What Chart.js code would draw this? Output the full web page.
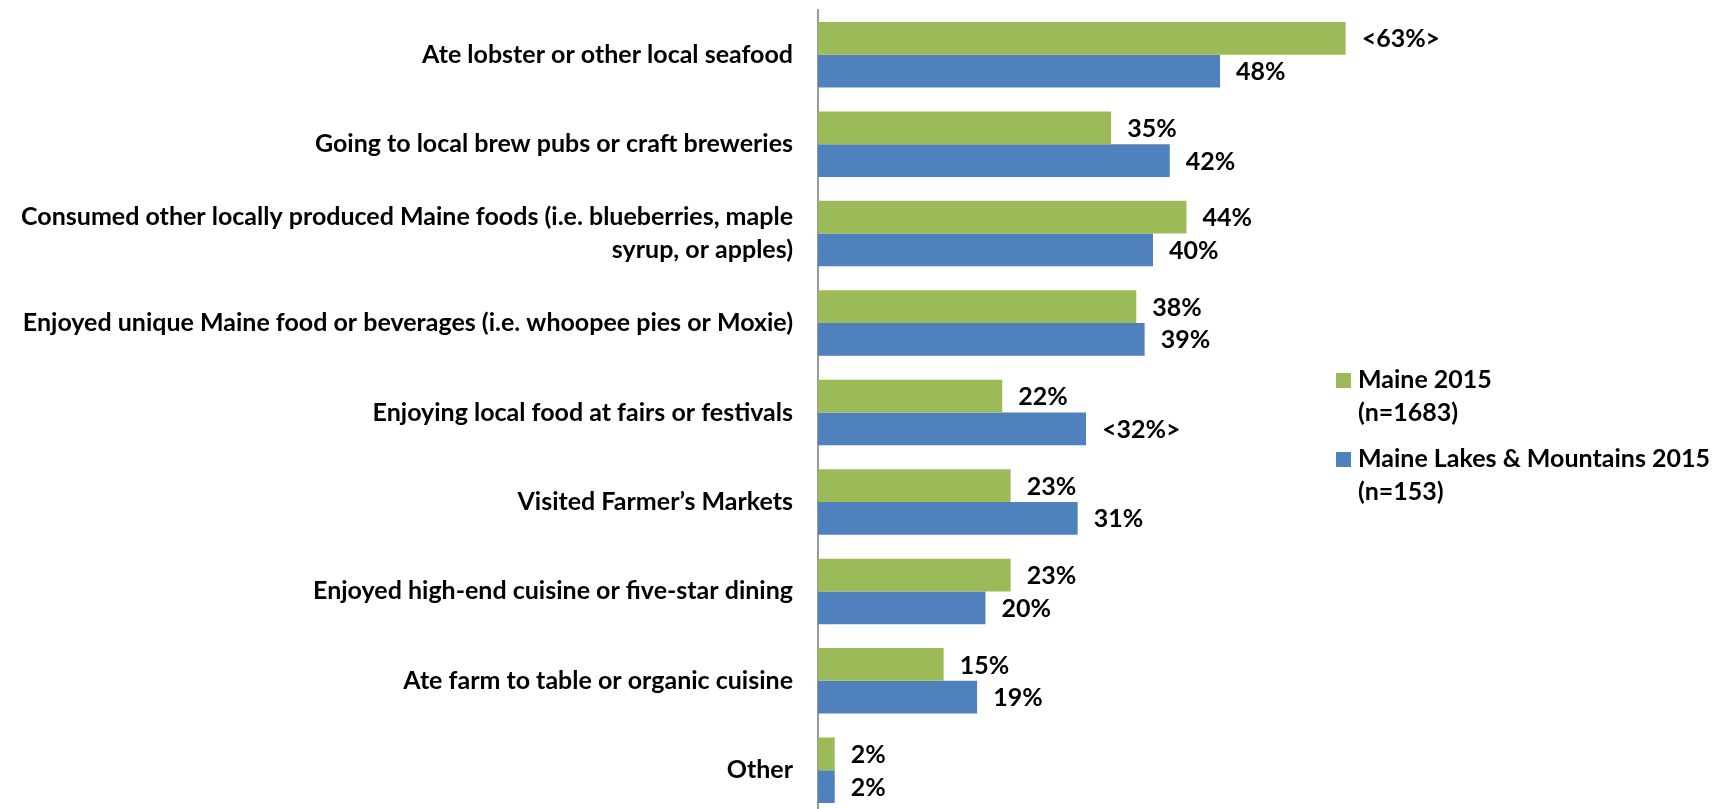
<!DOCTYPE html>
<html>
<head>
<meta charset="utf-8">
<title>Food and drink activities</title>
<script src="https://cdn.jsdelivr.net/npm/chart.js@4.4.1/dist/chart.umd.min.js"></script>
<style>
  html, body { margin: 0; padding: 0; background: #fff; overflow: hidden; }
  #wrap { width: 1721px; height: 815px; position: relative; }
</style>
</head>
<body>
<div id="wrap"><canvas id="myChart"></canvas></div>
<script>
const categories = [
  'Ate lobster or other local seafood',
  'Going to local brew pubs or craft breweries',
  ['Consumed other locally produced Maine foods (i.e. blueberries, maple', 'syrup, or apples)'],
  'Enjoyed unique Maine food or beverages (i.e. whoopee pies or Moxie)',
  'Enjoying local food at fairs or festivals',
  'Visited Farmer\u2019s Markets',
  'Enjoyed high-end cuisine or five-star dining',
  'Ate farm to table or organic cuisine',
  'Other'
];
const maineValues = [63, 35, 44, 38, 22, 23, 23, 15, 2];
const lakesValues = [48, 42, 40, 39, 32, 31, 20, 19, 2];
const maineLabels = ['<63%>', '35%', '44%', '38%', '22%', '23%', '23%', '15%', '2%'];
const lakesLabels = ['48%', '42%', '40%', '39%', '<32%>', '31%', '20%', '19%', '2%'];
const seriesNames = ['Maine 2015', 'Maine Lakes & Mountains 2015'];
const seriesNotes = ['(n=1683)', '(n=153)'];
const seriesColors = ['#9BBB59', '#4F81BD'];

const FONT = 'Lato, "Open Sans", sans-serif';

// value text just past the end of each bar
const barValueLabels = {
  id: 'barValueLabels',
  afterDatasetsDraw(chart) {
    const ctx = chart.ctx;
    ctx.save();
    ctx.font = 'bold 25px ' + FONT;
    ctx.fillStyle = '#000';
    ctx.textAlign = 'left';
    ctx.textBaseline = 'middle';
    chart.data.datasets.forEach((ds, d) => {
      chart.getDatasetMeta(d).data.forEach((bar, i) => {
        ctx.fillText(ds.valueLabels[i], bar.x + 16, bar.y + 1);
      });
    });
    ctx.restore();
  }
};

// two-line legend entries on the right
const sideLegend = {
  id: 'sideLegend',
  afterDraw(chart) {
    const ctx = chart.ctx;
    const x = chart.chartArea.left + 518;
    const tops = [373, 452];
    ctx.save();
    ctx.font = 'bold 25px ' + FONT;
    ctx.textAlign = 'left';
    ctx.textBaseline = 'middle';
    chart.data.datasets.forEach((ds, d) => {
      ctx.fillStyle = ds.backgroundColor;
      ctx.fillRect(x, tops[d], 15, 15);
      ctx.fillStyle = '#000';
      ctx.fillText(ds.label, x + 22, tops[d] + 7);
      ctx.fillText(seriesNotes[d], x + 22, tops[d] + 40);
    });
    ctx.restore();
  }
};

new Chart(document.getElementById('myChart'), {
  type: 'bar',
  data: {
    labels: categories,
    datasets: [
      { label: seriesNames[0], data: maineValues, valueLabels: maineLabels, backgroundColor: seriesColors[0] },
      { label: seriesNames[1], data: lakesValues, valueLabels: lakesLabels, backgroundColor: seriesColors[1] }
    ]
  },
  options: {
    indexAxis: 'y',
    responsive: true,
    maintainAspectRatio: false,
    animation: false,
    datasets: {
      bar: { categoryPercentage: 0.732, barPercentage: 1 }
    },
    layout: { padding: { top: 10, right: 233, bottom: 0, left: 0 } },
    scales: {
      x: { display: false, min: 0, max: 80 },
      y: {
        grid: { display: false, drawTicks: false },
        border: { display: true, color: '#999', width: 2 },
        ticks: {
          color: '#000',
          padding: 25,
          font: { family: FONT, size: 25, weight: 'bold', lineHeight: 1.3 }
        },
        afterFit(scale) {
          scale.width = 818;
          scale.paddingTop = 0;
          scale.paddingBottom = 0;
        }
      }
    },
    plugins: {
      legend: { display: false },
      tooltip: { enabled: false }
    }
  },
  plugins: [barValueLabels, sideLegend]
});
</script>
</body>
</html>
